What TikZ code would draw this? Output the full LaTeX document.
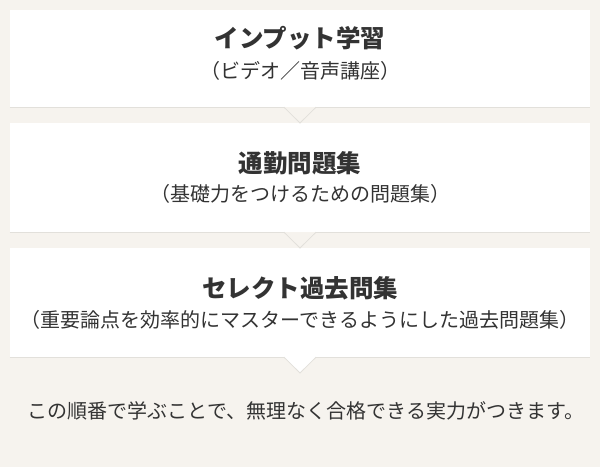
\documentclass[tikz,border=0pt]{standalone}
\usepackage{fontspec}
\setmainfont{Noto Sans CJK JP}
\usepackage{tikz}
\definecolor{paper}{HTML}{F6F3EE}
\definecolor{ink}{HTML}{333333}
\definecolor{edge}{HTML}{E2E0DB}
\tikzset{
  box/.style={fill=white, draw=none, minimum width=580pt, inner sep=0pt},
  title/.style={text=ink, font=\fontsize{24.5}{28}\selectfont\bfseries},
  sub/.style={text=ink, font=\fontsize{20}{24}\selectfont},
  pointer/.style={draw=edge, line width=0.8pt, line join=miter}
}
\begin{document}
\begin{tikzpicture}[x=1pt, y=-1pt]
      \fill[paper] (0, 0) rectangle (600, 467);
      \useasboundingbox (0, 0) rectangle (600, 467);

      \node[box, minimum height=97pt](Box1) at (300, 58.5) {};
        \node[title](Title1) at (300, 38) {インプット学習};
        \node[sub](Sub1) at (300, 71) {（ビデオ／音声講座）};
      \node[box, minimum height=109pt](Box2) at (300, 177.5) {};
        \node[title](Title2) at (300, 163) {通勤問題集};
        \node[sub](Sub2) at (300, 194) {（基礎力をつけるための問題集）};
      \node[box, minimum height=109pt](Box3) at (300, 302.5) {};
        \node[title](Title3) at (300, 288) {セレクト過去問集};
        \node[sub](Sub3) at (300, 320) {（重要論点を効率的にマスターできるようにした過去問題集）};

      \node[sub](Result) at (306, 411) {この順番で学ぶことで、無理なく合格できる実力がつきます。};

      \coordinate(Tip1) at (300, 123);
      \coordinate(Tip2) at (300, 248);
      \coordinate(Tip3) at (300, 373);

      \draw[edge, line width=1.2pt] (Box1.south west) -- (Box1.south east)
                                    (Box2.south west) -- (Box2.south east)
                                    (Box3.south west) -- (Box3.south east);
      \filldraw[pointer, fill=paper] ([xshift=-16pt]Box1.south) -- (Tip1) -- ([xshift=16pt]Box1.south);
      \filldraw[pointer, fill=paper] ([xshift=-16pt]Box2.south) -- (Tip2) -- ([xshift=16pt]Box2.south);
      \filldraw[pointer, fill=white] ([xshift=-16pt]Box3.south) -- (Tip3) -- ([xshift=16pt]Box3.south);
\end{tikzpicture}
\end{document}
